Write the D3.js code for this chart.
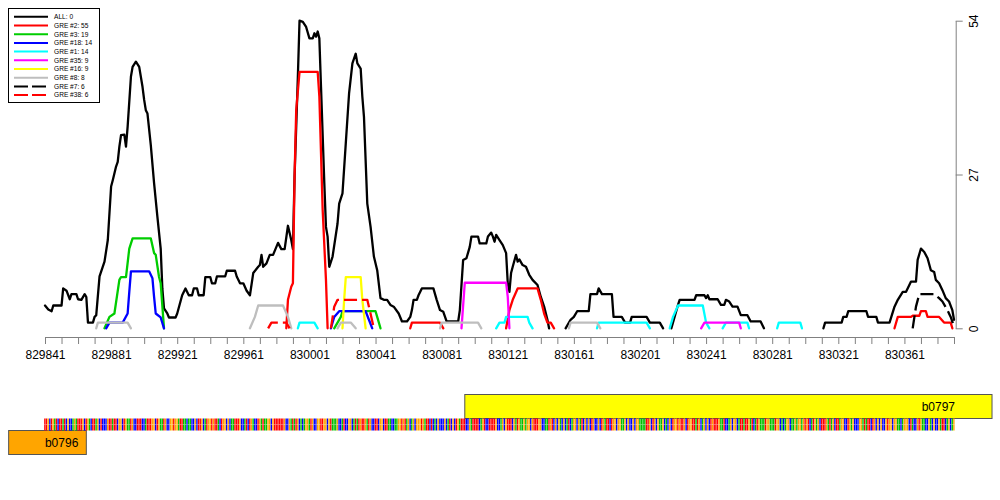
<!DOCTYPE html>
<html><head><meta charset="utf-8">
<script src="https://cdn.jsdelivr.net/npm/d3@7"></script>
<style>body{margin:0;background:#fff}svg{display:block;font-family:"Liberation Sans",Arial,sans-serif}</style>
</head><body><svg id="c" width="1000" height="500"></svg>
<script>
// ---- data ----
const posRange = [829841, 830391];
const xTickStep = 10, xLabelStep = 40;
const yTicks = [0, 27, 54];
const yMax = 54;

const allSegs = [
 [[829841,4],[829843,3.3],[829845,3],[829846,4],[829851,4],[829852,7],[829854,6.6],[829856,5.1],[829857,6],[829860,6],[829861,5.1],[829863,5],[829865,6],[829866,5.5],[829867,1],[829870,1],[829871,2],[829872,2.3],[829874,9.1],[829877,11.7],[829879,15.5],[829881,24.9],[829882,26],[829884,28.4],[829885,29.2],[829886,31.9],[829887,33.9],[829889,34],[829890,31.9],[829891,35.4],[829893,44.2],[829894,45.9],[829896,46.8],[829898,45.9],[829900,42.4],[829901,40.1],[829902,38.3],[829903,37.7],[829905,32.2],[829907,25.5],[829909,19.6],[829911,14],[829912,7],[829913,3.5],[829915,2.6],[829916,1.9],[829920,1.9],[829921,2.6],[829924,5.8],[829926,7],[829928,5.8],[829930,5.8],[829931,7],[829933,7],[829934,5.8],[829937,5.8],[829938,9],[829941,9],[829942,7.9],[829944,7.9],[829945,9.1],[829950,9.1],[829951,10.1],[829956,10.1],[829957,9.1],[829959,7.9],[829961,7.9],[829963,6.6],[829965,5.8],[829967,9.7],[829970,10.8],[829971,11.1],[829972,12.9],[829973,10.8],[829975,11.4],[829977,12.9],[829979,12.9],[829981,14.3],[829982,15],[829984,13.9],[829986,13.9],[829988,18],[829990,15.5],[829991,13.9],[829992,26.6],[829994,44.2],[829995,54],[829997,53.8],[829999,52.9],[830001,50.9],[830003,50.9],[830004,51.8],[830005,51.2],[830006,52.1],[830007,50.9],[830008,42.4],[830010,25.5],[830011,17.8],[830012,16.1],[830013,10.8],[830015,12.6],[830018,18.4],[830019,21.9],[830021,23.7],[830023,32.5],[830025,41.3],[830027,46.5],[830029,48.2],[830030,46.5],[830032,45.6],[830033,40.7],[830034,37.1],[830036,21.9],[830038,17.8],[830040,12.6],[830042,10.2],[830044,5.3],[830046,5],[830048,5],[830050,4.1],[830052,3.8],[830055,2.6],[830057,1.2],[830060,1.2],[830062,2],[830063,3.2],[830064,5],[830066,5],[830067,5.8],[830069,7],[830076,7],[830078,5],[830080,3.2],[830082,2.9],[830084,1.2],[830091,1.2],[830092,3.2],[830094,12],[830096,12.3],[830098,14.3],[830099,16.1],[830103,16.1],[830104,14.9],[830108,14.9],[830109,16.1],[830111,16.8],[830112,16.1],[830113,15.2],[830114,16.4],[830116,15.5],[830118,14.6],[830120,13.2],[830121,7.9],[830122,6.4],[830123,9.7],[830124,10.8],[830126,12.9],[830127,11.7],[830128,12.1],[830130,11.1],[830132,10.8],[830134,9.4],[830136,8.5],[830139,7.6],[830141,5.5],[830143,3.8],[830145,1.5],[830146,0]],
 [[830156,0],[830159,1.5],[830161,2],[830163,3],[830170,3],[830171,6],[830175,6],[830176,7],[830178,6],[830184,6],[830185,2],[830190,2],[830192,1],[830195,1],[830196,2],[830205,2],[830207,1],[830213,1],[830215,0]],
 [[830220,0],[830224,4.1],[830225,5],[830234,5],[830235,5.8],[830240,5.8],[830241,5.3],[830242,5.8],[830243,5.1],[830248,5.1],[830250,4.1],[830252,4.1],[830253,5],[830255,4.7],[830257,3.8],[830260,3.8],[830262,2.3],[830266,2.3],[830268,1.2],[830274,1.2],[830276,0]],
 [[830312,0],[830313,1],[830323,1],[830324,2],[830326,2],[830327,3],[830338,3],[830339,2],[830344,2],[830345,1],[830352,1],[830355,3.8],[830357,5],[830360,6.4],[830362,6.4],[830365,8.2],[830368,8.2],[830369,12],[830371,14],[830373,13.4],[830375,12.3],[830377,10.2],[830379,9.9],[830380,8.5],[830382,7.9],[830384,6.7],[830386,5.3],[830388,4.7],[830390,3.2],[830391,1.5]]
];
const gre2Segs = [
 [[829987,0],[829988,5],[829990,7.3],[829991,7.9],[829992,26.6],[829993,38.3],[829995,45],[830006,45],[830007,40.7],[830009,20.8],[830011,8.5],[830012,0]],
 [[830062,0],[830063,1],[830080,1],[830082,0]],
 [[830120,0],[830122,3.2],[830124,5],[830127,7],[830139,7],[830141,5],[830143,2.6],[830145,1],[830147,1],[830149,0]],
 [[830355,0],[830357,2],[830365,2],[830366,2.2],[830370,2.2],[830371,3],[830374,3],[830375,2],[830382,2],[830385,1],[830389,1],[830390,0]]
];
const gre3Segs = [
 [[829877,0],[829880,2],[829883,2.6],[829886,8.5],[829887,9],[829890,9],[829892,14],[829894,15.8],[829905,15.8],[829907,13.2],[829908,12.9],[829910,9],[829911,7.9],[829913,0]],
 [[830016,0],[830020,2],[830021,3],[830041,3],[830042,2],[830044,0]]
];
const gre18Segs = [
 [[829878,0],[829880,1],[829888,1],[829891,2.6],[829892,6.4],[829893,10],[829904,10],[829906,8.8],[829907,5.5],[829908,2.6],[829911,1.9],[829913,0]],
 [[830014,0],[830016,2],[830019,3],[830035,3],[830037,1.5],[830039,0]]
];
const gre1Segs = [
 [[829994,0],[829995,1],[830004,1],[830006,0]],
 [[830114,0],[830116,1],[830119,1],[830120,2],[830133,2],[830134,1],[830136,0]],
 [[830175,0],[830176,1],[830205,1],[830207,0]],
 [[830219,0],[830221,2],[830224,4],[830239,4],[830241,1],[830243,0]],
 [[830251,0],[830253,1],[830266,1],[830267,0]],
 [[830284,0],[830285,1],[830298,1],[830299,0]]
];
const gre35Segs = [
 [[830093,0],[830095,8],[830120,8],[830121,5.5],[830122,0]],
 [[830238,0],[830240,1],[830261,1],[830262,0]]
];
const gre16Segs = [
 [[830021,0],[830022,5],[830023,9],[830032,9],[830033,5],[830035,0]]
];
const gre8Segs = [
 [[829872,0],[829873,1],[829891,1],[829893,0]],
 [[829965,0],[829968,2],[829970,4],[829985,4],[829988,2],[829990,0]],
 [[830018,0],[830020,1],[830026,1],[830029,0]],
 [[830080,0],[830081,1],[830103,1],[830105,0]],
 [[830158,0],[830159,1],[830175,1],[830177,0]]
];
const gre7Segs = [
 [[830366,0],[830368,3.8],[830370,6],[830379,6],[830382,5.3],[830384,4.7],[830387,3.2],[830389,2],[830391,0.3]]
];
const gre38Segs = [
 [[829976,0],[829978,1],[829987,1],[829989,0]],
 [[830014,0],[830016,3.8],[830018,5],[830036,5],[830037,3.8],[830040,0]]
];

const seriesNames  = ["ALL: 0","GRE #2: 55","GRE #3: 19","GRE #18: 14","GRE #1: 14","GRE #35: 9","GRE #16: 9","GRE #8: 8","GRE #7: 6","GRE #38: 6"];
const seriesColors = ["#000000","#ff0000","#00cd00","#0000ff","#00ffff","#ff00ff","#ffff00","#bebebe","#000000","#ff0000"];
const seriesDashed = [false,false,false,false,false,false,false,false,true,true];
const seriesData   = [allSegs,gre2Segs,gre3Segs,gre18Segs,gre1Segs,gre35Segs,gre16Segs,gre8Segs,gre7Segs,gre38Segs];

const geneNames  = ["b0796","b0797"];
const geneStarts = [829819, 830095];
const geneEnds   = [829866, 830414];
const geneColors = ["#ffa500","#ffff00"];

const sequence = ("TTGCTGATCTTATCGCCAGATTTGCTGACTTAGCTCCCGTTATTCGGCTG" +
 "AATGCCTTTCCATTTGGCTGAATGCCGGTGGATTAACAACCGCTTGCATG" +
 "GTGTTACTGGCGCAATTTGCCATCTGACCTGATAAGGCGTTTTTTGCCGA" +
 "TATGCACAGGATGCCGGTTGGCGTAAAGCCATCCGGCATATGTTGATGCC" +
 "TTCGGCTTAACCAAGGTGTAGCAGCGGGTGATTCTCACGCCCGCATCGCT" +
 "GATTTCCGATTTTCAGTCCTTTTGCCAGCGTTTCGATGAAGAGGCGTTTG" +
 "GCCAATGTCGCGACGCATCAGGCGATCGCGCTGCCGCTGATTCTGGCGGA" +
 "AGCGCCGCGGAAAATTGCTGCGAAGCACGCTGGTGTTGCTGGTTATGCAG" +
 "CGCTGTTTGAATCCAGCGGCATTATTGATCATGAAATGGAAATGGCACAG" +
 "GCAAGAGGAGTGTCATGAGCTTTGATAGCTTAGGCCTGAGCCCGGATATT" +
 "CTGCGCGCCGTGGCGGAACAGGGCTACCGTGAACCGACGCCGATTCAGCAG");
const baseColors = {A:"#00c000", C:"#0000ff", G:"#ffa500", T:"#ff0000"};

// ---- drawing ----
const svg = d3.select("#c");
svg.append("rect").attr("width",1000).attr("height",500).attr("fill","#fff");

const x = d3.scaleLinear().domain(posRange).range([45, 954]);
const y = d3.scaleLinear().domain([0, yMax]).range([328.3, 20.7]);
const line = d3.line().x(d => x(d[0])).y(d => y(d[1]));

// x axis
const xTicks = d3.range(posRange[0], posRange[1] + 1, xTickStep);
const xAxis = d3.axisBottom(x).tickValues(xTicks).tickSize(7).tickSizeOuter(0).tickPadding(6)
  .tickFormat(d => ((d - posRange[0]) % xLabelStep === 0) ? String(d) : "");
const gx = svg.append("g").attr("transform","translate(0,337)").call(xAxis);
gx.selectAll("path,line").attr("stroke","#808080").attr("stroke-width",1);
gx.selectAll("text").attr("font-size",12).attr("font-family","Liberation Sans, Arial, sans-serif").attr("fill","#000");

// y axis (right)
const yAxis = d3.axisRight(y).tickValues(yTicks).tickSize(7).tickSizeOuter(0);
const gy = svg.append("g").attr("transform","translate(955.7,0)").call(yAxis);
gy.selectAll("path,line").attr("stroke","#808080").attr("stroke-width",1);
gy.selectAll("text").attr("x",0).attr("y",0).attr("dy",0).attr("text-anchor","middle")
  .attr("transform","translate(22,0) rotate(-90)")
  .attr("font-size",12).attr("font-family","Liberation Sans, Arial, sans-serif").attr("fill","#000");

// series
seriesData.forEach((segs, i) => {
  const g = svg.append("g");
  segs.forEach(seg => {
    g.append("path").attr("d", line(seg)).attr("fill","none")
     .attr("stroke", seriesColors[i]).attr("stroke-width", 2.3)
     .attr("stroke-linejoin","round").attr("stroke-linecap", seriesDashed[i] ? "butt" : "round")
     .attr("stroke-dasharray", seriesDashed[i] ? "13,5" : null);
  });
});

// legend
const lg = svg.append("g");
lg.append("rect").attr("x",8.5).attr("y",8.5).attr("width",91).attr("height",94)
  .attr("fill","#fff").attr("stroke","#000").attr("stroke-width",1);
seriesNames.forEach((n, i) => {
  const yy = 16.8 + i * 8.7;
  lg.append("line").attr("x1",14).attr("x2",48).attr("y1",yy).attr("y2",yy)
    .attr("stroke", seriesColors[i]).attr("stroke-width",2)
    .attr("stroke-dasharray", seriesDashed[i] ? "14,4" : null);
  lg.append("text").attr("x",54).attr("y",yy).attr("dy","0.35em").attr("font-size",6.6)
    .attr("fill","#000").text(n);
});

// genes
const axisEndX = x(posRange[1]);
geneNames.forEach((n, i) => {
  const ty = i === 0 ? 430.5 : 394.5;
  const x0 = x(geneStarts[i]), x1 = x(geneEnds[i]);
  svg.append("rect").attr("x", x0).attr("y", ty).attr("width", x1 - x0).attr("height", 24)
    .attr("fill", geneColors[i]).attr("stroke","#555").attr("stroke-width",1);
  svg.append("text").attr("x", Math.min(x1 - 8, axisEndX + 1)).attr("y", ty + 12).attr("dy","0.36em")
    .attr("text-anchor","end").attr("font-size",12).attr("fill","#000").text(n);
});

// sequence strip
const seqG = svg.append("g");
const step = x(posRange[0] + 1) - x(posRange[0]);
const nBases = posRange[1] - posRange[0] + 1;
sequence.slice(0, nBases).split("").forEach((b, i) => {
  const cx = x(posRange[0] + i);
  seqG.append("rect").attr("x", cx - step / 2).attr("y", 418.5).attr("width", step * 0.85).attr("height", 12)
    .attr("fill", baseColors[b]);
  seqG.append("rect").attr("x", cx - step / 2).attr("y", 424).attr("width", step * 0.85).attr("height", 0.6)
    .attr("fill", "#fff").attr("opacity", 0.6);
});
</script></body></html>
